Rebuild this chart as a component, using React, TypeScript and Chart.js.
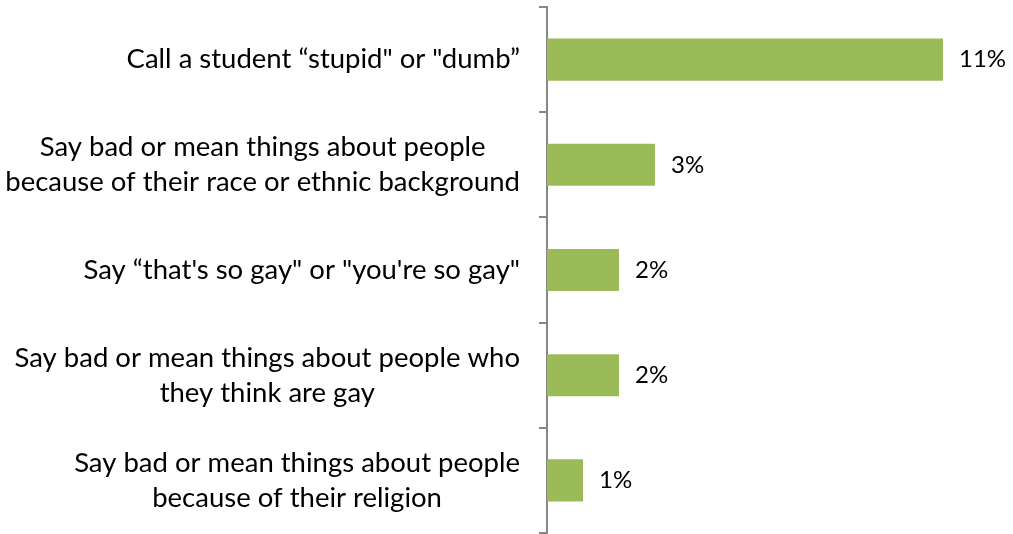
import React, { useEffect, useRef } from "react";
import { Chart, registerables } from "chart.js";

Chart.register(...registerables);

const categories: string[][] = [
  ["Call a student \u201cstupid\" or \"dumb\u201d"],
  ["Say bad or mean things about people", "because of their race or ethnic background"],
  ["Say \u201cthat's so gay\" or \"you're so gay\""],
  ["Say bad or mean things about people who", "they think are gay"],
  ["Say bad or mean things about people", "because of their religion"],
];
const values: number[] = [11, 3, 2, 2, 1];
const valueLabels: string[] = ["11%", "3%", "2%", "2%", "1%"];

const FONT = "Lato, 'Open Sans', sans-serif";
const CAT_SIZE = 27.5;
const LINE_H = 35;

const labelPlugin = {
  id: "customLabels",
  afterDatasetsDraw(chart: any) {
    const ctx = chart.ctx;
    const meta = chart.getDatasetMeta(0);
    const yScale = chart.scales.y;
    ctx.save();
    ctx.fillStyle = "#000000";
    ctx.textBaseline = "middle";
    // value labels
    ctx.font = `24px ${FONT}`;
    ctx.textAlign = "left";
    meta.data.forEach((bar: any, i: number) => {
      ctx.fillText(valueLabels[i], bar.x + 16, bar.y);
    });
    // category labels: block right-aligned, lines centered within block
    ctx.font = `${CAT_SIZE}px ${FONT}`;
    ctx.textAlign = "center";
    const rightEdge = yScale.right - 27;
    categories.forEach((lines, i) => {
      const cy = yScale.getPixelForValue(i);
      const widest = Math.max(...lines.map((l) => ctx.measureText(l).width));
      const cx = rightEdge - widest / 2;
      const y0 = cy - ((lines.length - 1) * LINE_H) / 2;
      lines.forEach((l, j) => ctx.fillText(l, cx, y0 + j * LINE_H));
    });
    ctx.restore();
  },
};

export default function App() {
  const ref = useRef<HTMLCanvasElement>(null);
  useEffect(() => {
    if (!ref.current) return;
    const chart = new Chart(ref.current, {
      type: "bar",
      data: {
        labels: categories.map((c) => c.join(" ")),
        datasets: [
          {
            data: values,
            backgroundColor: "#9BBB59",
            borderWidth: 0,
            barPercentage: 0.4,
            categoryPercentage: 1,
          },
        ],
      },
      options: {
        indexAxis: "y",
        animation: false,
        responsive: false,
        maintainAspectRatio: false,
        layout: { padding: { top: 7, bottom: 1, left: 0, right: 34 } },
        plugins: { legend: { display: false }, tooltip: { enabled: false } },
        scales: {
          x: { display: false, min: 0, max: 12 },
          y: {
            afterFit(scale: any) {
              scale.width = 547;
              scale.paddingTop = 0;
              scale.paddingBottom = 0;
            },
            grid: {
              drawOnChartArea: false,
              drawTicks: true,
              tickLength: 8,
              color: "#868686",
              lineWidth: 2,
              offset: true,
            },
            border: { color: "#868686", width: 2 },
            ticks: { display: false },
          },
        },
      },
      plugins: [labelPlugin],
    });
    return () => chart.destroy();
  }, []);
  return (
    <div style={{ position: "fixed", left: 0, top: 0, width: 1013, height: 534, background: "#fff" }}>
      <canvas ref={ref} width={1013} height={534} style={{ display: "block" }} />
    </div>
  );
}
